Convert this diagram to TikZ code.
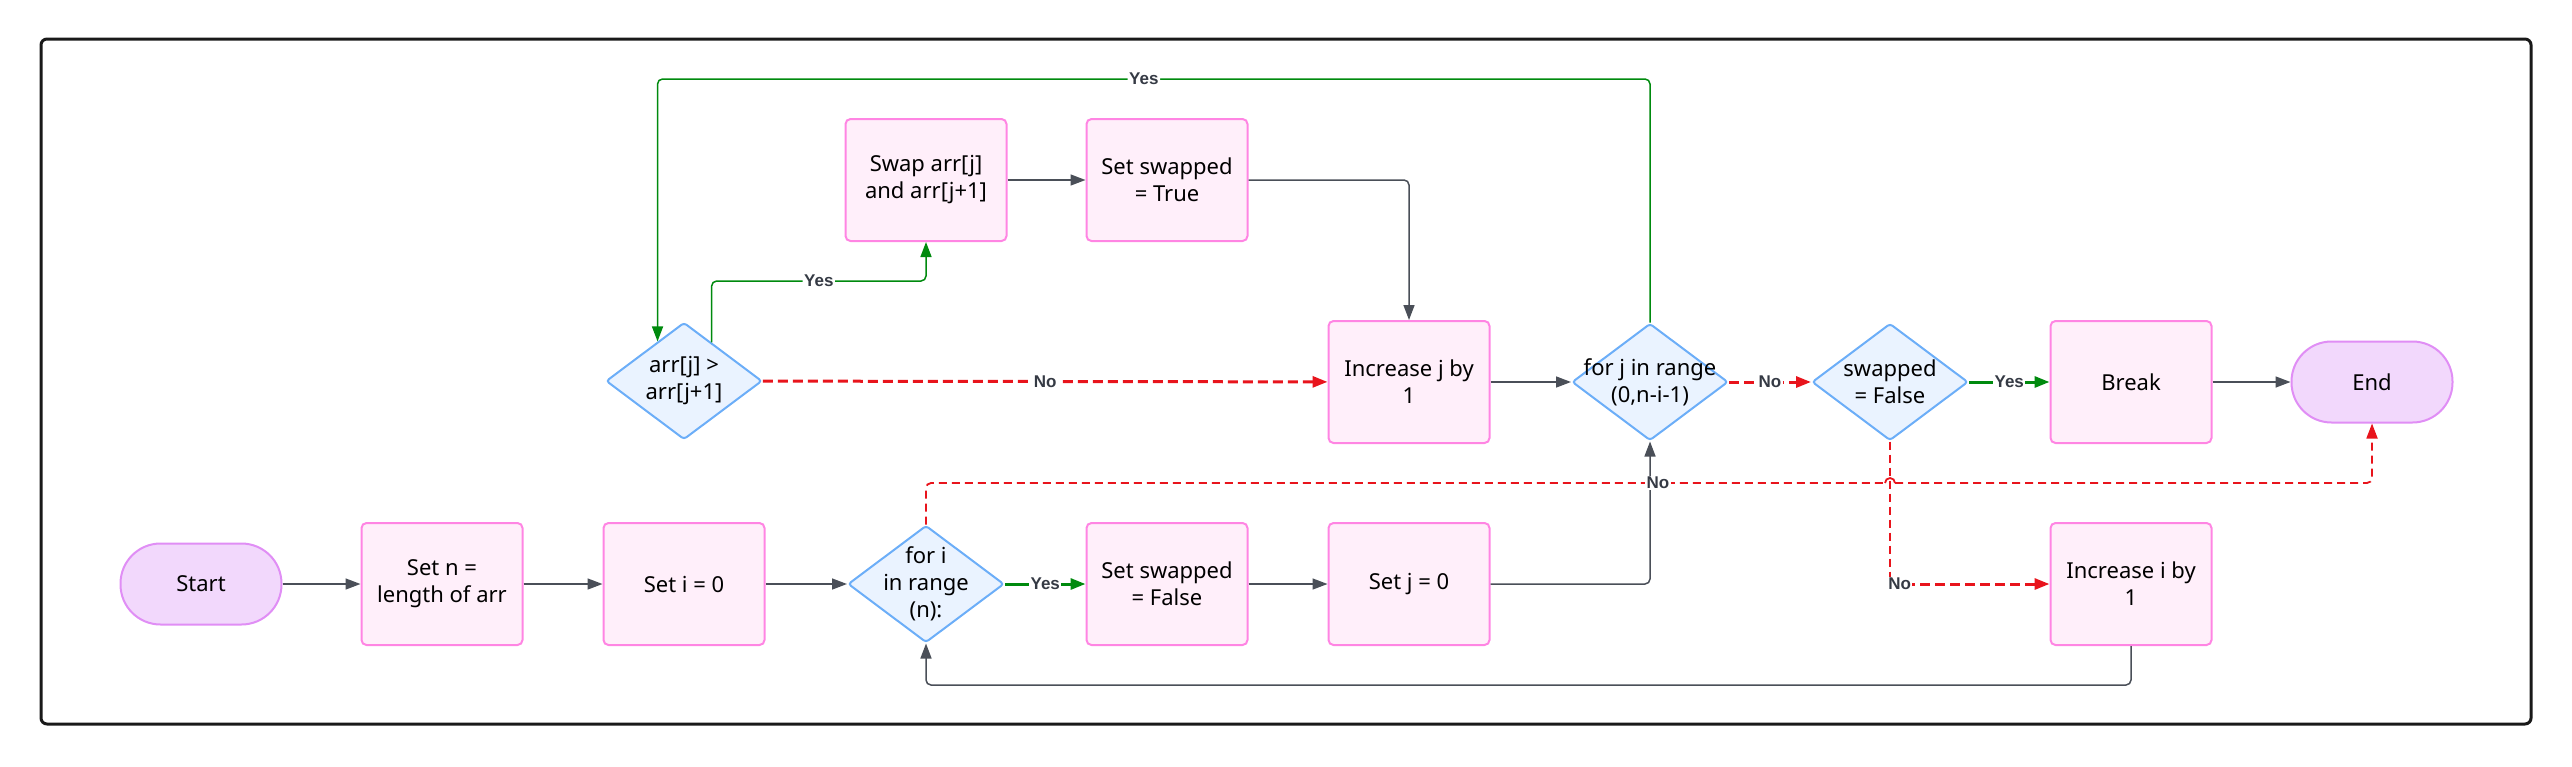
\documentclass[tikz,border=0pt]{standalone}
\usepackage{fontspec}
\setmainfont{Noto Sans}
\newfontfamily\lblfont{Liberation Sans}
\usetikzlibrary{arrows.meta,shapes.geometric,calc}
\definecolor{procfill}{HTML}{FFEFFA}
\definecolor{procdraw}{HTML}{FF85E3}
\definecolor{termfill}{HTML}{F2D8FC}
\definecolor{termdraw}{HTML}{E08EF5}
\definecolor{decfill}{HTML}{EAF3FF}
\definecolor{decdraw}{HTML}{6CAEF8}
\definecolor{edgegrey}{HTML}{4A4F58}
\definecolor{labgrey}{HTML}{353A44}
\definecolor{yesgreen}{HTML}{008A0E}
\definecolor{nored}{HTML}{E8141C}
\tikzset{
  txt/.style={font=\fontsize{22}{27}\selectfont, align=center, text=black},
  proc/.style={txt, draw=procdraw, fill=procfill, line width=2pt, rounded corners=5pt,
    minimum width=161pt, minimum height=122pt, inner sep=0pt},
  term/.style={txt, draw=termdraw, fill=termfill, line width=2pt, rounded corners=40pt,
    minimum width=161pt, minimum height=81pt, inner sep=0pt},
  dec/.style={diamond, draw=decdraw, fill=decfill, line width=2pt, rounded corners=3pt,
    minimum width=156pt, minimum height=117pt, inner sep=0pt},
  dtxt/.style={txt},
  lbl/.style={font=\lblfont\fontsize{17}{19}\selectfont\bfseries, text=labgrey, fill=white, inner sep=1.5pt},
  tip/.style={-{Triangle[length=15pt,width=11pt]}},
  gedge/.style={draw=edgegrey, line width=1.5pt, tip, rounded corners=5pt},
  ythin/.style={draw=yesgreen, line width=1.5pt, rounded corners=5pt},
  ythick/.style={draw=yesgreen, line width=3pt, tip},
  nthin/.style={draw=nored, line width=1.8pt, dash pattern=on 8pt off 5pt, rounded corners=5pt},
  nthick/.style={draw=nored, line width=3pt, dash pattern=on 10pt off 5pt},
}
\begin{document}
\begin{tikzpicture}[x=1pt,y=-1pt]
\useasboundingbox (0,0) rectangle (2572,766);
\draw[line width=3pt, rounded corners=6pt, black!90] (41,39) rectangle (2531,724);

% nodes
\node[term] (start) at (201,584) {Start};
\node[proc] (setn) at (442,584) {Set n =\\length of arr};
\node[proc] (seti) at (684,584) {Set i = 0};
\node[dec] (fori) at (926,584) {};
\node[dtxt] at (fori) {for i\\in range\\(n):};
\node[proc] (setsf) at (1167,584) {Set swapped\\= False};
\node[proc] (setj) at (1409,584) {Set j = 0};
\node[dec] (arr) at (684,381) {};
\node[dtxt] at (arr) {arr[j] >\\arr[j+1]};
\node[proc] (swap) at (926,180) {Swap arr[j]\\and arr[j+1]};
\node[proc] (sett) at (1167,180) {Set swapped\\= True};
\node[proc] (incj) at (1409,382) {Increase j by\\1};
\node[dec] (forj) at (1650,382) {};
\node[dtxt] at (forj) {for j in range\\(0,n-i-1)};
\node[dec] (swp) at (1890,382) {};
\node[dtxt] at (swp) {swapped\\= False};
\node[proc] (brk) at (2131,382) {Break};
\node[term] (end) at (2372,382) {End};
\node[proc] (inci) at (2131,584) {Increase i by\\1};

% helper coordinates
\coordinate (topy) at (0,79);
\coordinate (midy) at (0,281);
\coordinate (hy) at (0,483);
\coordinate (by) at (0,685);
\coordinate (arrin) at ($(arr.north)!0.335!(arr.west)$);
\coordinate (arrout) at ($(arr.north)!0.35!(arr.east)$);
\coordinate (hopL) at ($(swp.south |- hy)+(-5,0)$);
\coordinate (hopR) at ($(swp.south |- hy)+(5,0)$);
\coordinate (swpc) at (swp.south |- inci);

% connectors
\draw[gedge] (start) -- (setn);
\draw[gedge] (setn) -- (seti);
\draw[gedge] (seti) -- (fori);
\draw[ythick] (fori) -- node[lbl]{Yes} (setsf);
\draw[gedge] (setsf) -- (setj);
\draw[gedge] (setj) -| (forj.south);
\draw[ythin, tip] (forj.north) -- (forj.north |- topy) -- node[lbl,pos=0.51]{Yes} (arrin |- topy) -- (arrin);
\draw[ythin, tip] (arrout) -- (arrout |- midy) -| node[lbl,pos=0.25]{Yes} (swap.south);
\draw[gedge] (swap) -- (sett);
\draw[gedge] (sett.east) -| (incj.north);
\draw[nthick, tip] (arr) -- node[lbl]{No} (incj);
\draw[gedge] (incj) -- (forj);
\draw[nthick, tip] (forj) -- node[lbl]{No} (swp);
\draw[ythick] (swp) -- node[lbl]{Yes} (brk);
\draw[gedge] (brk) -- (end);
\draw[nthin] (swp.south) -- (swpc);
\draw[nthin] (fori.north) |- (hopL);
\draw[nthin, solid] (hopL) arc[start angle=180, end angle=360, radius=5];
\draw[nthin, tip] (hopR) -| (end.south);
\node[lbl] at (1658,483) {No};
\draw[nthick, tip] (swpc) -- node[lbl,pos=0.06]{No} (inci.west);
\draw[gedge] (inci.south) -- (inci.south |- by) -| (fori.south);
\end{tikzpicture}
\end{document}
